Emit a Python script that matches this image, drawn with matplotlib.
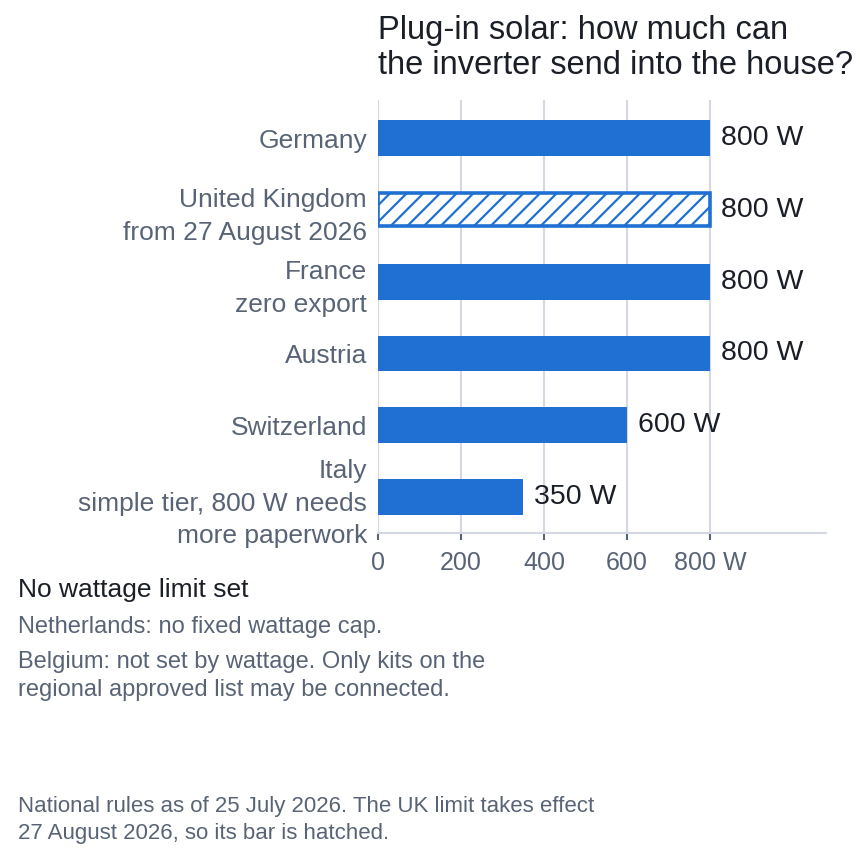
"""Plug-in solar inverter limits per country, horizontal bars."""
import matplotlib

matplotlib.use("Agg")
import matplotlib.pyplot as plt

plt.rcParams["font.family"] = ["Liberation Sans", "DejaVu Sans"]
plt.rcParams["hatch.linewidth"] = 1.6

countries = [
    "Germany",
    "United Kingdom\nfrom 27 August 2026",
    "France\nzero export",
    "Austria",
    "Switzerland",
    "Italy\nsimple tier, 800 W needs\nmore paperwork",
]
limits_w = [800, 800, 800, 800, 600, 350]
hatched = [False, True, False, False, False, False]
xticks = [0, 200, 400, 600, 800]
xtick_labels = ["0", "200", "400", "600", "800 W"]

BLUE = "#1f70d2"
GREY = "#586476"
DARK = "#1a1e27"
GRID = "#d3d8e2"

fig = plt.figure(figsize=(8.6, 8.6), dpi=100)
ax = fig.add_axes([378 / 860, 1 - 533 / 860, 448 / 860, 433 / 860])

ypos = list(range(len(countries)))
for y, v, h in zip(ypos, limits_w, hatched):
    if h:
        ax.barh(y, v, height=0.46, color="white", edgecolor=BLUE,
                linewidth=2.6, hatch="//", zorder=3)
    else:
        ax.barh(y, v, height=0.5, color=BLUE, edgecolor="none", zorder=3)
    ax.annotate(f"{v} W", (v, y), xytext=(8, 0), textcoords="offset points",
                va="center", ha="left", fontsize=20.5, color=DARK)

ax.set_xlim(0, 1080)
ax.set_ylim(5.5, -0.53)
ax.set_yticks(ypos)
ax.set_yticklabels(countries, fontsize=19, color=GREY, linespacing=1.45)
ax.set_xticks(xticks)
ax.set_xticklabels(xtick_labels, fontsize=18, color=GREY)
ax.tick_params(axis="y", length=0, pad=8)
ax.tick_params(axis="x", length=5, width=1.5, color=GREY, pad=8)
ax.grid(axis="x", color=GRID, linewidth=1.5, zorder=0)
for side in ("top", "right", "left"):
    ax.spines[side].set_visible(False)
ax.spines["bottom"].set_color(GRID)
ax.spines["bottom"].set_linewidth(1.5)

fig.text(378 / 860, 1 - 48 / 860,
         "Plug-in solar: how much can\nthe inverter send into the house?",
         fontsize=23.5, color=DARK, va="center", ha="left", linespacing=1.17)

fig.text(18 / 860, 1 - 590 / 860, "No wattage limit set",
         fontsize=19, color=DARK, va="center")
fig.text(18 / 860, 1 - 627 / 860, "Netherlands: no fixed wattage cap.",
         fontsize=17, color=GREY, va="center")
fig.text(18 / 860, 1 - 676 / 860,
         "Belgium: not set by wattage. Only kits on the\n"
         "regional approved list may be connected.",
         fontsize=17, color=GREY, va="center", linespacing=1.35)
fig.text(18 / 860, 1 - 820 / 860,
         "National rules as of 25 July 2026. The UK limit takes effect\n"
         "27 August 2026, so its bar is hatched.",
         fontsize=16, color=GREY, va="center", linespacing=1.4)

fig.savefig("out.png", dpi=100)
